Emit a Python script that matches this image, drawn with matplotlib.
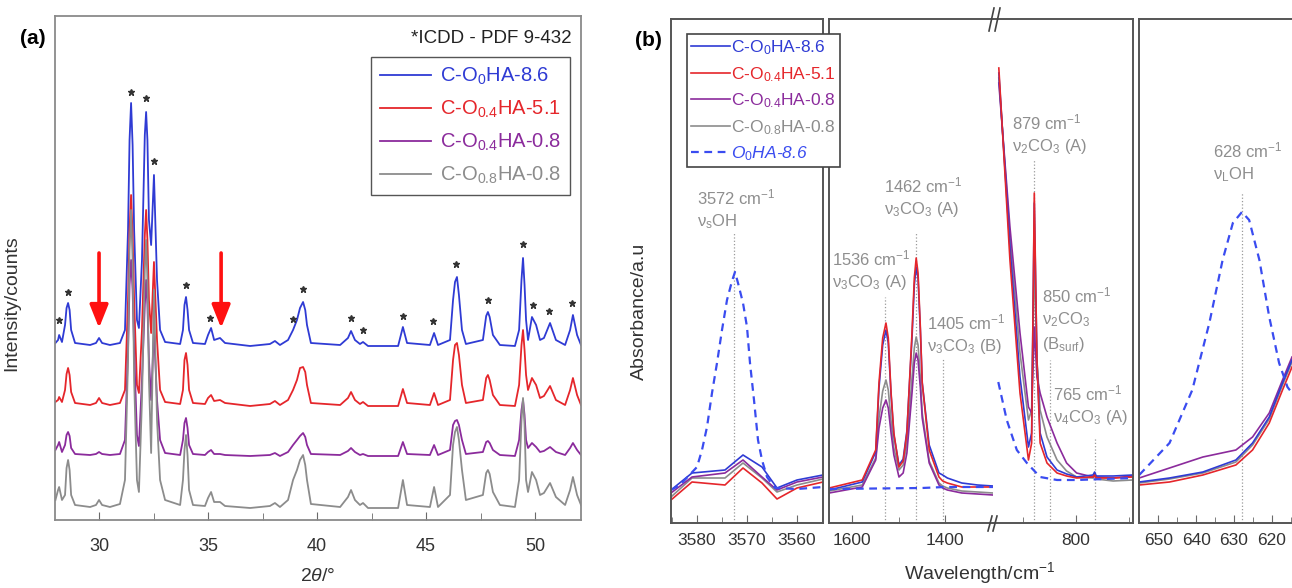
import matplotlib
matplotlib.use('Agg')
import matplotlib.pyplot as plt
from matplotlib.lines import Line2D
from matplotlib.ticker import MultipleLocator, FixedLocator

plt.rcParams.update({
    'font.family': ['Liberation Sans', 'DejaVu Sans'],
    'mathtext.fontset': 'custom',
    'mathtext.rm': 'Liberation Sans',
    'mathtext.it': 'Liberation Sans:italic',
    'mathtext.bf': 'Liberation Sans:bold',
})

# ---------------- (a) XRD data ----------------
two_theta = [28.0, 28.12, 28.17, 28.3, 28.44, 28.51, 28.58, 28.65, 28.72, 28.9, 29.59, 29.86,
             30.0, 30.14, 30.5, 30.96, 31.19, 31.33, 31.40, 31.47, 31.54, 31.61, 31.74, 31.83,
             31.97, 32.10, 32.16, 32.22, 32.29, 32.39, 32.52, 32.66, 32.8, 33.03, 33.72, 33.85,
             33.92, 33.99, 34.06, 34.13, 34.31, 34.86, 35.0, 35.14, 35.28, 35.55, 35.78, 36.93,
             37.84, 38.07, 38.3, 38.67, 38.9, 39.08, 39.22, 39.36, 39.46, 39.54, 39.72, 41.06,
             41.42, 41.56, 41.74, 41.97, 42.11, 42.34, 43.72, 43.94, 44.13, 45.18,
             45.37, 45.55, 46.1, 46.24, 46.33, 46.42, 46.51, 46.65, 46.83, 47.61, 47.76, 47.84, 47.92, 48.07,
             48.39, 49.08, 49.27, 49.38, 49.45, 49.52, 49.59, 49.68, 49.86, 50.05, 50.23, 50.41,
             50.69, 50.96, 51.38, 51.61, 51.74, 51.93, 52.11]
xrd_blue = [177, 180, 185, 178, 195, 212, 217, 210, 190, 177, 175, 177,
            182, 177, 175, 177, 190, 290, 380, 417, 375, 290, 200, 192,
            260, 385, 408, 380, 300, 275, 345, 240, 190, 178, 176, 190,
            215, 223, 210, 190, 177, 176, 185, 192, 180, 182, 177, 174,
            176, 179, 175, 180, 190, 200, 212, 218, 210, 195, 177, 175,
            182, 189, 180, 176, 178, 174, 174, 193, 177, 175,
            187, 175, 180, 220, 238, 243, 225, 190, 176, 180, 204, 208, 203, 185,
            175, 174, 190, 240, 262, 235, 200, 180, 203, 195, 180, 182,
            197, 180, 175, 190, 205, 185, 175]
xrd_red = [118, 120, 123, 118, 130, 146, 152, 145, 128, 117, 115, 117,
           122, 117, 115, 117, 130, 220, 290, 325, 285, 220, 135, 127,
           190, 285, 310, 280, 220, 187, 258, 180, 130, 118, 116, 130,
           160, 167, 155, 130, 117, 116, 122, 125, 119, 120, 117, 114,
           116, 119, 115, 120, 130, 140, 152, 153, 148, 135, 117, 115,
           122, 128, 120, 116, 118, 114, 114, 131, 117, 115,
           127, 115, 120, 160, 175, 177, 165, 135, 117, 120, 142, 145, 140, 125,
           115, 114, 135, 175, 190, 170, 145, 130, 142, 135, 122, 124,
           134, 120, 115, 130, 142, 125, 115]
xrd_purple = [70, 75, 78, 68, 75, 85, 88, 84, 72, 66, 65, 66,
              68, 66, 65, 66, 80, 170, 235, 260, 230, 170, 85, 74,
              140, 215, 240, 215, 160, 120, 190, 120, 80, 67, 65, 80,
              97, 102, 92, 75, 66, 65, 68, 70, 66, 66, 65, 64,
              65, 67, 64, 68, 75, 80, 84, 87, 83, 75, 66, 65,
              69, 72, 68, 65, 66, 64, 64, 78, 66, 65,
              75, 65, 70, 95, 99, 100, 95, 80, 66, 68, 78, 79, 77, 70,
              65, 64, 80, 110, 120, 105, 80, 72, 77, 73, 68, 69,
              73, 68, 65, 72, 77, 70, 65]
xrd_gray = [20, 30, 33, 20, 25, 52, 60, 50, 25, 15, 13, 15,
            20, 15, 13, 16, 40, 160, 270, 310, 260, 140, 40, 28,
            120, 250, 280, 240, 140, 67, 230, 100, 40, 20, 15, 40,
            70, 85, 65, 30, 15, 14, 22, 28, 18, 18, 14, 12,
            14, 17, 13, 20, 40, 50, 60, 65, 55, 40, 16, 13,
            23, 30, 20, 15, 17, 12, 12, 40, 15, 13,
            33, 13, 25, 75, 88, 93, 80, 50, 20, 25, 47, 50, 46, 28,
            15, 13, 40, 100, 122, 95, 40, 28, 48, 40, 25, 27,
            37, 23, 15, 30, 43, 25, 15]

# ICDD reflections marked with *
star_2theta = [28.17, 28.58, 31.47, 32.16, 32.52, 33.99, 35.09, 38.9, 39.36, 41.56,
               42.11, 43.94, 45.32, 46.38, 47.84, 49.45, 49.91, 50.64, 51.7]
star_int = [200, 228, 428, 422, 359, 235, 202, 201, 231, 202,
            190, 204, 199, 256, 220, 276, 215, 209, 217]
arrow_2theta = [30.0, 35.6]

labels = ['C-O$_0$HA-8.6', 'C-O$_{0.4}$HA-5.1', 'C-O$_{0.4}$HA-0.8', 'C-O$_{0.8}$HA-0.8']
ref_label = 'O$_0$HA-8.6'

# ---------------- (b) FTIR data ----------------
oh_wn = [3585.2, 3581.0, 3574.4, 3570.8, 3567.0, 3564.0, 3560.0, 3554.8]
oh_blue = [0.33, 0.50, 0.53, 0.68, 0.56, 0.35, 0.43, 0.48]
oh_red = [0.23, 0.41, 0.38, 0.55, 0.40, 0.24, 0.35, 0.41]
oh_purple = [0.30, 0.46, 0.50, 0.63, 0.46, 0.33, 0.41, 0.46]
oh_gray = [0.26, 0.45, 0.45, 0.60, 0.45, 0.31, 0.38, 0.44]
oh_ref_wn = [3585.2, 3583.4, 3580.0, 3579.0, 3578.0, 3577.0, 3576.0, 3575.0, 3574.0, 3573.0, 3572.4,
             3571.8, 3570.8, 3570.0, 3569.4, 3568.6, 3567.8, 3567.0, 3566.0, 3564.4, 3560.0, 3554.8]
oh_ref = [0.33, 0.38, 0.56, 0.73, 0.96, 1.30, 1.60, 1.93, 2.23, 2.42, 2.51,
          2.40, 2.20, 1.96, 1.60, 1.23, 0.83, 0.63, 0.46, 0.35, 0.34, 0.36]

co3_wn = [1649, 1578, 1549, 1542, 1534, 1527, 1522, 1516, 1510, 1499, 1490, 1482, 1471,
          1466, 1462, 1458, 1453, 1449, 1434, 1413, 1405, 1395, 1364, 1330, 1297]
co3_blue = [0.33, 0.41, 0.71, 1.35, 1.78, 1.93, 1.80, 1.28, 0.88, 0.58, 0.64, 0.92, 1.85,
            2.38, 2.56, 2.45, 1.92, 1.40, 0.78, 0.50, 0.48, 0.45, 0.40, 0.38, 0.37]
co3_red = [0.35, 0.43, 0.73, 1.40, 1.85, 2.00, 1.85, 1.30, 0.90, 0.56, 0.62, 0.90, 1.90,
           2.45, 2.65, 2.50, 1.95, 1.40, 0.73, 0.46, 0.42, 0.40, 0.36, 0.36, 0.36]
co3_purple = [0.30, 0.36, 0.63, 0.95, 1.15, 1.23, 1.15, 0.90, 0.68, 0.46, 0.50, 0.70, 1.30,
              1.60, 1.70, 1.63, 1.35, 1.05, 0.60, 0.38, 0.35, 0.33, 0.30, 0.29, 0.28]
co3_gray = [0.32, 0.38, 0.65, 1.05, 1.32, 1.43, 1.33, 1.02, 0.75, 0.53, 0.58, 0.80, 1.45,
            1.75, 1.86, 1.78, 1.45, 1.10, 0.62, 0.40, 0.37, 0.35, 0.32, 0.31, 0.30]
co3_ref_wn = [1649, 1450, 1400, 1297]
co3_ref = [0.34, 0.35, 0.36, 0.36]

v2_wn = [946, 925, 906, 890, 884, 879, 874, 868, 855, 836, 818, 799, 768, 765, 762, 730, 693]
v2_blue = [4.50, 2.76, 1.46, 0.76, 0.90, 3.20, 1.63, 0.90, 0.66, 0.53, 0.49, 0.46, 0.48, 0.51, 0.47, 0.47, 0.48]
v2_red = [4.55, 2.63, 1.30, 0.63, 0.80, 3.30, 1.63, 0.80, 0.60, 0.50, 0.47, 0.45, 0.46, 0.48, 0.45, 0.45, 0.46]
v2_purple = [4.40, 2.96, 1.90, 1.16, 1.10, 1.96, 1.46, 1.30, 1.06, 0.80, 0.60, 0.50, 0.46, 0.49, 0.46, 0.45, 0.47]
v2_gray = [4.45, 2.86, 1.70, 1.03, 1.13, 2.63, 1.63, 1.13, 0.86, 0.63, 0.52, 0.46, 0.45, 0.47, 0.44, 0.42, 0.43]
v2_ref_wn = [947, 931, 912, 893, 868, 836, 799, 693]
v2_ref = [1.41, 1.03, 0.73, 0.60, 0.46, 0.43, 0.43, 0.45]

lib_wn = [655, 647, 638.2, 629.5, 625.1, 620.7, 617.2, 614.7]
lib_blue = [0.41, 0.45, 0.51, 0.63, 0.80, 1.06, 1.40, 1.63]
lib_red = [0.38, 0.41, 0.48, 0.58, 0.73, 1.00, 1.33, 1.56]
lib_purple = [0.45, 0.55, 0.66, 0.73, 0.86, 1.10, 1.43, 1.66]
lib_gray = [0.40, 0.44, 0.50, 0.61, 0.78, 1.04, 1.38, 1.61]
lib_ref_wn = [655, 647, 641, 636.5, 633, 630.3, 627.9, 626, 623.3, 620.7, 618.1, 615.9, 614.7]
lib_ref = [0.48, 0.80, 1.33, 2.0, 2.63, 3.0, 3.11, 3.03, 2.63, 2.06, 1.60, 1.36, 1.30]

# colours
C_BLUE, C_RED, C_PURPLE, C_GRAY = '#2f3bd4', '#e5262b', '#8b2b9c', '#8c8c8c'
C_REF = '#3a4cf0'
colors = [C_BLUE, C_RED, C_PURPLE, C_GRAY]
NOTE = '#8e8e8e'
SPINE = '#6a6a6a'

W, H = 1292, 588
fig = plt.figure(figsize=(W / 100, H / 100), dpi=100)


def px_axes(x0, y0, x1, y1):
    return fig.add_axes([x0 / W, 1 - y1 / H, (x1 - x0) / W, (y1 - y0) / H])


# ======================= panel (a) =======================
ax = px_axes(55, 16, 581, 520)
for vals, c, lab in zip([xrd_blue, xrd_red, xrd_purple, xrd_gray], colors, labels):
    ax.plot(two_theta, vals, color=c, lw=1.3, label=lab)
ax.plot(star_2theta, star_int, ls='none', marker='*', ms=5, color='#333333')
for x in arrow_2theta:
    ax.annotate('', xy=(x, 192), xytext=(x, 267),
                arrowprops=dict(arrowstyle='-|>,head_length=0.7,head_width=0.28',
                                color='#ff1010', lw=2.6, shrinkA=0, shrinkB=0,
                                mutation_scale=20))
ax.set_xlim(27.98, 52.11)
ax.set_ylim(0, 504)
ax.set_yticks([])
ax.xaxis.set_major_locator(MultipleLocator(5))
ax.xaxis.set_minor_locator(MultipleLocator(2.5))
ax.tick_params(axis='x', which='both', direction='in', labelsize=13, pad=13,
               color=SPINE, labelcolor='#333333')
ax.tick_params(axis='x', which='major', length=6)
ax.tick_params(axis='x', which='minor', length=5)
for s in ax.spines.values():
    s.set_color('#8a8a8a')
    s.set_linewidth(1.3)
ax.set_xlabel(r'2$\theta$/°', fontsize=14, color='#333333')
ax.xaxis.set_label_coords(0.5, -0.095)
ax.set_ylabel('Intensity/counts', fontsize=14, color='#333333')
ax.yaxis.set_label_coords(-0.066, 0.43)
ax.text(0.983, 0.956, '*ICDD - PDF 9-432', transform=ax.transAxes, ha='right', va='center',
        fontsize=13.5, color='#222222')
leg = ax.legend(loc='upper right', bbox_to_anchor=(0.979, 0.919), borderaxespad=0,
                fontsize=14.5, labelcolor='linecolor', fancybox=False, framealpha=1,
                handlelength=2.5, handletextpad=0.45, labelspacing=0.58, borderpad=0.45)
leg.get_frame().set_edgecolor('#555555')
leg.get_frame().set_linewidth(1.0)
fig.text(33 / W, 1 - 38 / H, '(a)', fontsize=15, weight='bold', ha='center', va='center')

# ======================= panel (b) =======================
b1 = px_axes(671, 19, 823, 523)
b2a = px_axes(829, 19, 993, 523)
b2b = px_axes(993, 19, 1133, 523)
b3 = px_axes(1139, 19, 1292, 523)
b2b.patch.set_alpha(0)

blocks = [
    (b1, oh_wn, [oh_blue, oh_red, oh_purple, oh_gray], oh_ref_wn, oh_ref, (3585.2, 3554.8)),
    (b2a, co3_wn, [co3_blue, co3_red, co3_purple, co3_gray], co3_ref_wn, co3_ref, (1649.5, 1296.8)),
    (b2b, v2_wn, [v2_blue, v2_red, v2_purple, v2_gray], v2_ref_wn, v2_ref, (957, 692.5)),
    (b3, lib_wn, [lib_blue, lib_red, lib_purple, lib_gray], lib_ref_wn, lib_ref, (655.05, 614.7)),
]
handles = None
for axb, wn, series, rwn, rvals, xl in blocks:
    hs = []
    for idx in [3, 2, 0, 1]:
        h, = axb.plot(wn, series[idx], color=colors[idx], lw=1.2, label=labels[idx])
        hs.append((idx, h))
    hr, = axb.plot(rwn, rvals, color=C_REF, lw=1.6, ls=(0, (3.5, 2.5)), label=ref_label)
    if handles is None:
        handles = [h for _, h in sorted(hs)] + [hr]
    axb.set_xlim(*xl)
    axb.set_ylim(0, 5.04)
    axb.set_yticks([])
    axb.tick_params(axis='x', which='both', direction='in', labelsize=12.5, pad=7,
                    color=SPINE, labelcolor='#333333')
    axb.tick_params(axis='x', which='major', length=6)
    axb.tick_params(axis='x', which='minor', length=4.5)
    for s in axb.spines.values():
        s.set_color('#555555')
        s.set_linewidth(1.4)

b1.xaxis.set_major_locator(MultipleLocator(10))
b1.xaxis.set_minor_locator(MultipleLocator(5))
b2a.xaxis.set_major_locator(FixedLocator([1600, 1400]))
b2a.xaxis.set_minor_locator(FixedLocator([1500]))
b2b.xaxis.set_major_locator(FixedLocator([800]))
b2b.xaxis.set_minor_locator(FixedLocator([900, 700]))
b3.xaxis.set_major_locator(MultipleLocator(10))
b3.xaxis.set_minor_locator(MultipleLocator(5))
b2a.spines['right'].set_visible(False)
b2b.spines['left'].set_visible(False)
b3.spines['right'].set_visible(False)

# band markers and assignments
bands = [
    (b1, 3572.6, 2.90, 3580.0, 3.26, ['3572 cm$^{-1}$', 'ν$_{\\mathrm{s}}$OH']),
    (b2a, 1530, 2.26, 1643, 2.65, ['1536 cm$^{-1}$', 'ν$_3$CO$_3$ (A)']),
    (b2a, 1462, 2.91, 1531, 3.38, ['1462 cm$^{-1}$', 'ν$_3$CO$_3$ (A)']),
    (b2a, 1405, 1.65, 1438.7, 2.01, ['1405 cm$^{-1}$', 'ν$_3$CO$_3$ (B)']),
    (b2b, 879, 3.63, 920.8, 4.01, ['879 cm$^{-1}$', 'ν$_2$CO$_3$ (A)']),
    (b2b, 850, 1.63, 864.2, 2.28, ['850 cm$^{-1}$', 'ν$_2$CO$_3$', '(B$_{\\mathrm{surf}}$)']),
    (b2b, 765, 0.86, 843.4, 1.30, ['765 cm$^{-1}$', 'ν$_4$CO$_3$ (A)']),
    (b3, 628, 3.31, 635.5, 3.73, ['628 cm$^{-1}$', 'ν$_{\\mathrm{L}}$OH']),
]
for axb, pos, top, tx, ty, lines in bands:
    axb.vlines(pos, 0, top, colors='#9a9a9a', linestyles=':', lw=0.9, zorder=1)
    for k, line in enumerate(lines):
        axb.text(tx, ty - 0.245 * k, line, fontsize=12, color=NOTE, ha='left', va='center',
                 zorder=0.5)

lg = fig.legend(handles=handles, loc='upper left', bbox_to_anchor=(687 / W, 1 - 34 / H),
                bbox_transform=fig.transFigure, borderaxespad=0, fontsize=12.5,
                labelcolor='linecolor', fancybox=False, framealpha=1, handlelength=2.2,
                handletextpad=0.1, labelspacing=0.45, borderpad=0.25)
lg.get_frame().set_edgecolor('#444444')
lg.get_frame().set_linewidth(1.2)
lg.get_texts()[4].set_fontstyle('italic')

# axis break marks
for xs, ys in [((989, 994), (31, 8)), ((995, 1000), (31, 8)),
               ((988, 992), (531, 516)), ((993, 997), (531, 516))]:
    fig.add_artist(Line2D([x / W for x in xs], [1 - y / H for y in ys],
                          color='#444444', lw=1.2))

b1.set_ylabel('Absorbance/a.u', fontsize=14, color='#333333')
b1.yaxis.set_label_coords(-0.151, 0.42)
fig.text(980 / W, 1 - 573 / H, 'Wavelength/cm$^{-1}$', fontsize=14, color='#333333',
         ha='center', va='center')
fig.text(648 / W, 1 - 40 / H, '(b)', fontsize=15, weight='bold', ha='center', va='center')

fig.savefig('out.png', dpi=100)
